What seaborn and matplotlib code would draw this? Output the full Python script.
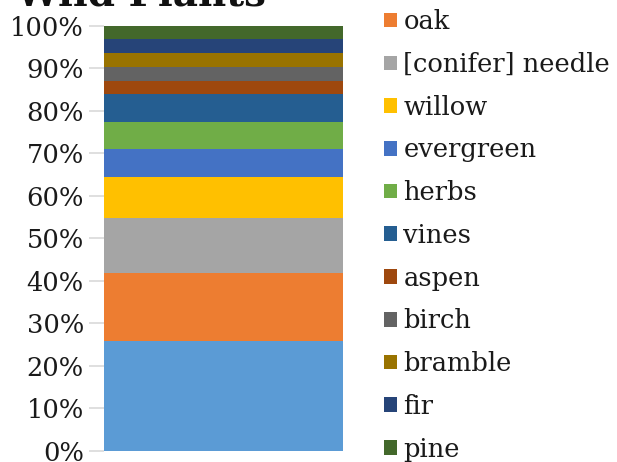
import numpy as np
import pandas as pd
import matplotlib
matplotlib.use('Agg')
import matplotlib.pyplot as plt
from matplotlib.patches import Patch
from matplotlib.ticker import PercentFormatter
import seaborn as sns

# counts per plant (bottom of the stack first)
plants = ['maple', 'oak', '[conifer] needle', 'willow', 'evergreen', 'herbs',
          'vines', 'aspen', 'birch', 'bramble', 'fir', 'pine']
counts = [8, 5, 4, 3, 2, 2, 2, 1, 1, 1, 1, 1]
colors = ['#5B9BD5', '#ED7D31', '#A5A5A5', '#FFC000', '#4472C4', '#70AD47',
          '#255E91', '#9E480E', '#636363', '#997300', '#264478', '#43682B']

data = pd.DataFrame({'plant': plants, 'count': counts})
data['pct'] = data['count'] / data['count'].sum() * 100
data['group'] = 'Wild Plants'

sns.set_style('white')
plt.rcParams['font.family'] = ['DejaVu Serif']

fig = plt.figure(figsize=(6.17, 4.62), dpi=100)
ax = fig.add_axes([104 / 617, 1 - 451 / 462, (343 - 104) / 617, (451 - 25.7) / 462])

# stacked bar, one layer per plant
bottom = 0.0
for i, row in data.iterrows():
    sns.barplot(x=[row['group']], y=[row['pct']], bottom=bottom, color=colors[i],
                width=1.0, saturation=1, linewidth=0, ax=ax)
    bottom += row['pct']

ax.set_xlim(-0.5, 0.5)
ax.set_ylim(0, 100)
ax.set_yticks(np.arange(0, 101, 10))
ax.yaxis.set_major_formatter(PercentFormatter(decimals=0))
ax.set_xticks([])
ax.set_xlabel('')
ax.set_ylabel('')
for s in ax.spines.values():
    s.set_visible(False)
ax.tick_params(axis='y', left=True, length=11, width=1.2, color='#D9D9D9',
               pad=3.5, labelsize=18.5, labelcolor='#1a1a1a')

fig.text(141 / 617, 1 - 5 / 462, 'Wild Plants', ha='center', va='baseline',
         fontsize=28, fontweight='bold', color='#111111')

handles = [Patch(facecolor=c, edgecolor='none') for c in colors]
ax.legend(handles, plants, loc='center left',
          bbox_to_anchor=(384 / 617, 1 - 214 / 462), bbox_transform=fig.transFigure,
          frameon=False, fontsize=18.5, handlelength=0.5, handleheight=0.5,
          handletextpad=0.25, labelspacing=0.69, borderpad=0, borderaxespad=0,
          labelcolor='#1a1a1a')

plt.savefig('out.png', dpi=100)
